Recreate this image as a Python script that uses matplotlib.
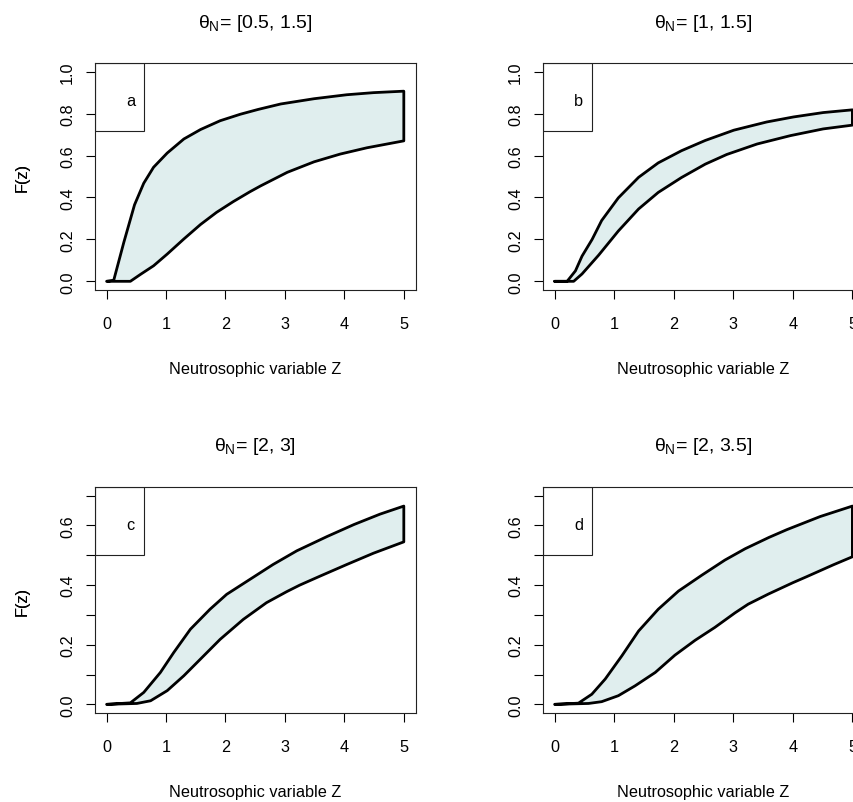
import matplotlib
matplotlib.use('Agg')
import matplotlib.pyplot as plt
from matplotlib.patches import Rectangle

plt.rcParams['font.family'] = ['Liberation Sans', 'DejaVu Sans']
plt.rcParams['mathtext.fontset'] = 'custom'
plt.rcParams['mathtext.rm'] = 'Liberation Sans'
plt.rcParams['mathtext.it'] = 'Liberation Sans'
plt.rcParams['mathtext.bf'] = 'Liberation Sans'

# panel titles and letters
titles = [r'$\theta_N$= [0.5, 1.5]', r'$\theta_N$= [1, 1.5]',
          r'$\theta_N$= [2, 3]', r'$\theta_N$= [2, 3.5]']
letters = ['a', 'b', 'c', 'd']

# (a) theta in [0.5, 1.5]
za_up = [0, 0.12, 0.29, 0.47, 0.625, 0.79, 1.02, 1.30, 1.58, 1.91, 2.25, 2.55, 2.93, 3.49, 4.04, 4.49, 5.0]
Fa_up = [0, 0.005, 0.186, 0.365, 0.468, 0.544, 0.612, 0.679, 0.724, 0.766, 0.797, 0.82, 0.846, 0.871, 0.89, 0.9, 0.907]
za_lo = [0, 0.4, 0.57, 0.79, 1.02, 1.30, 1.58, 1.85, 2.13, 2.41, 2.59, 3.04, 3.49, 3.93, 4.38, 5.0]
Fa_lo = [0, 0, 0.033, 0.074, 0.13, 0.202, 0.271, 0.329, 0.38, 0.427, 0.455, 0.52, 0.57, 0.607, 0.637, 0.670]

# (b) theta in [1, 1.5]
zb_up = [0, 0.21, 0.35, 0.46, 0.63, 0.79, 1.07, 1.41, 1.74, 2.13, 2.53, 3.01, 3.56, 4.01, 4.51, 5.0]
Fb_up = [0, 0, 0.05, 0.12, 0.2, 0.29, 0.398, 0.496, 0.565, 0.623, 0.672, 0.721, 0.76, 0.784, 0.805, 0.818]
zb_lo = [0, 0.32, 0.46, 0.74, 1.07, 1.41, 1.74, 2.13, 2.53, 2.89, 3.4, 3.96, 4.51, 5.0]
Fb_lo = [0, 0, 0.035, 0.125, 0.24, 0.345, 0.424, 0.495, 0.559, 0.605, 0.655, 0.695, 0.727, 0.745]

# (c) theta in [2, 3]
zc_up = [0, 0.4, 0.625, 0.905, 1.13, 1.41, 1.74, 2.02, 2.41, 2.80, 3.20, 3.71, 4.16, 4.6, 5.0]
Fc_up = [0, 0.005, 0.04, 0.107, 0.174, 0.252, 0.319, 0.369, 0.419, 0.469, 0.515, 0.563, 0.603, 0.638, 0.665]
zc_lo = [0, 0.51, 0.74, 1.02, 1.30, 1.58, 1.91, 2.30, 2.69, 3.03, 3.25, 3.59, 4.04, 4.49, 5.0]
Fc_lo = [0, 0.003, 0.012, 0.046, 0.096, 0.152, 0.218, 0.285, 0.341, 0.378, 0.4, 0.43, 0.469, 0.507, 0.545]

# (d) theta in [2, 3.5]
zd_up = [0, 0.4, 0.625, 0.85, 1.13, 1.41, 1.74, 2.08, 2.47, 2.86, 3.20, 3.6, 3.9, 4.46, 5.0]
Fd_up = [0, 0.004, 0.034, 0.085, 0.163, 0.246, 0.319, 0.38, 0.433, 0.484, 0.522, 0.56, 0.586, 0.63, 0.665]
zd_lo = [0, 0.57, 0.79, 1.07, 1.35, 1.69, 2.02, 2.36, 2.69, 3.03, 3.25, 3.59, 4.0, 4.23, 4.68, 5.0]
Fd_lo = [0, 0.003, 0.009, 0.029, 0.062, 0.107, 0.165, 0.215, 0.258, 0.307, 0.336, 0.37, 0.408, 0.428, 0.468, 0.495]

xticks = [0, 1, 2, 3, 4, 5]
yticks_top = [0, 0.2, 0.4, 0.6, 0.8, 1.0]
ylabels_top = ['0.0', '0.2', '0.4', '0.6', '0.8', '1.0']
yticks_bot = [0, 0.1, 0.2, 0.3, 0.4, 0.5, 0.6, 0.7]
ylabels_bot = ['0.0', '', '0.2', '', '0.4', '', '0.6', '']

curves = [(za_up, Fa_up, za_lo, Fa_lo), (zb_up, Fb_up, zb_lo, Fb_lo),
          (zc_up, Fc_up, zc_lo, Fc_lo), (zd_up, Fd_up, zd_lo, Fd_lo)]

W, H = 854, 803
fig = plt.figure(figsize=(W / 100, H / 100), dpi=100)

# axes boxes in pixels: left, top, right, bottom
boxes = [(94.7, 64.3, 415.7, 290.7), (542.7, 64.3, 864.3, 290.7),
         (94.7, 488.3, 415.7, 713.7), (542.7, 488.3, 864.3, 713.7)]

for i, (l, t, r, b) in enumerate(boxes):
    ax = fig.add_axes([l / W, (H - b) / H, (r - l) / W, (b - t) / H])
    zu, fu, zl, fl = curves[i]
    xs = list(zu) + list(zl[::-1])
    ys = list(fu) + list(fl[::-1])
    ax.fill(xs, ys, facecolor='#E0EEEE', edgecolor='black', lw=2.0, joinstyle='round')

    ax.set_xlim(-0.2, 5.2)
    if i < 2:
        ax.set_ylim(-0.04, 1.04)
        ax.set_yticks(yticks_top)
        ax.set_yticklabels(ylabels_top, rotation=90, va='center')
    else:
        ax.set_ylim(-0.028, 0.728)
        ax.set_yticks(yticks_bot)
        ax.set_yticklabels(ylabels_bot, rotation=90, va='center')
    ax.set_xticks(xticks)
    ax.set_xticklabels([str(v) for v in xticks])

    ax.tick_params(axis='both', direction='out', length=6.7, width=0.8,
                   labelsize=11.7, colors='black')
    ax.tick_params(axis='x', pad=12.5)
    ax.tick_params(axis='y', pad=7.5)
    for s in ax.spines.values():
        s.set_linewidth(0.8)
        s.set_color('#222222')

    h = b - t
    ax.set_xlabel('Neutrosophic variable Z', fontsize=11.7, va='center')
    ax.xaxis.set_label_coords(0.5, -(369.5 - 290.7) / 226.4)
    ax.set_ylabel('F(z)', fontsize=11.7, va='center')
    ax.yaxis.set_label_coords(-(l - 22) / (r - l), 0.5)

    ax.set_title(titles[i], fontsize=14, y=1 + 41.3 / h, va='center', pad=0)

    # legend-style box with panel letter
    bw, bh = 49.6 / (r - l), 67.2 / h
    ax.add_patch(Rectangle((0, 1 - bh), bw, bh, transform=ax.transAxes,
                           fill=False, lw=0.8, edgecolor='#222222'))
    ax.text(36 / (r - l), 1 - 41.7 / h, letters[i], transform=ax.transAxes,
            fontsize=11.7, ha='center', va='baseline')

fig.savefig('out.png', dpi=100)
